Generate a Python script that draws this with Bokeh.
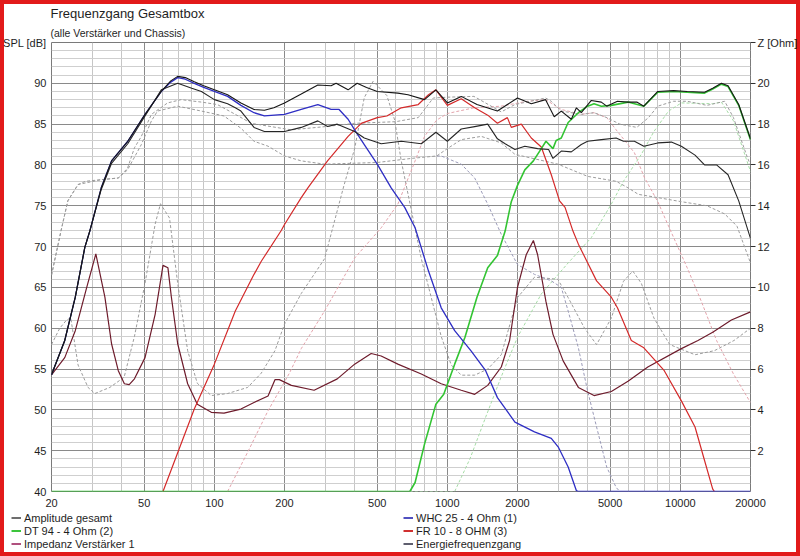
from bokeh.plotting import figure
from bokeh.models import Range1d, LinearAxis, FixedTicker, Legend, LegendItem, Title
from bokeh.layouts import column
from bokeh.embed import file_html
from bokeh.resources import INLINE

# ---------------- data ----------------
AMP = [(20,54.3),(22.8,58.5),(25.3,63.8),(27.8,69.9),(29.2,71.9),(32.7,77.2),(36.2,80.5),(42.5,82.9),
       (50.4,86.2),(59.2,89.0),(65,90.3),(69.6,90.85),(75,90.7),(82,90.2),(90,89.7),(100,89.2),(114,88.6),
       (130,87.6),(148,86.8),(164,86.7),(180,87.0),(200,87.6),(236,88.7),(278,89.8),(317,89.7),(333,90.0),
       (375,89.2),(410,90.0),(450,89.5),(500,89.0),(613,88.8),(678,88.6),(798,88.0),(893,89.2),(1000,87.6),
       (1147,88.4),(1340,87.4),(1640,86.6),(1810,87.4),(2000,88.2),(2292,87.5),(2640,88.0),(2875,85.9),
       (3083,86.6),(3404,85.6),(3580,87.0),(3757,86.4),(4148,87.9),(4579,87.7),(4830,87.2),(5370,87.8),
       (5960,87.7),(6500,87.7),(6970,87.2),(8000,89.0),(9350,89.1),(10700,89.0),(12700,88.9),(13770,89.4),
       (15000,90.0),(16020,89.7),(17800,87.4),(20000,83.2)]

ENERGY = [(20,54.3),(22.8,58.5),(25.3,63.8),(27.8,69.9),(29.2,71.9),(32.7,77.0),(36.2,80.2),(42.5,82.6),
          (50.4,86.0),(59.2,89.2),(69.6,90.0),(80,89.4),(88,89.0),(100,88.0),(114,87.5),(123,87.0),(130,86.6),
          (148,84.6),(164,84.1),(200,84.1),(236,84.6),(278,85.4),(306,84.7),(337,85.0),(400,84.1),(440,83.3),
          (520,82.6),(634,82.9),(773,82.6),(893,84.0),(1000,82.9),(1147,84.4),(1310,84.7),(1490,85.0),
          (1640,83.2),(1770,82.6),(1950,81.9),(2150,82.3),(2440,82.0),(2720,81.9),(2840,80.8),(3083,81.7),
          (3404,81.6),(3757,82.5),(4000,82.9),(4579,83.1),(5300,83.3),(5700,82.9),(6350,82.9),(6970,82.3),
          (8000,82.7),(9150,82.8),(10100,82.3),(11560,81.2),(12700,80.0),(14300,80.0),(16020,78.8),
          (17800,75.6),(20000,71.0)]

WHC = [(20,54.3),(22.8,58.5),(25.3,63.8),(27.8,69.9),(29.2,71.9),(32.7,77.2),(36.2,80.5),(42.5,82.9),
       (50.4,86.2),(59.2,89.0),(65,90.15),(69.6,90.7),(75,90.5),(82,90.0),(90,89.5),(100,89.0),(114,88.4),
       (130,87.3),(148,86.4),(164,86.0),(200,86.2),(236,86.8),(278,87.4),(317,86.8),(343,86.8),(375,85.6),
       (400,84.3),(440,82.5),(500,80.1),(574,77.2),(656,74.8),(727,72.3),(830,67.0),(941,62.5),(1075,59.7),
       (1266,57.2),(1460,54.8),(1640,51.5),(1950,48.5),(2365,47.3),(2793,46.5),(3000,45.4),(3300,43.0),
       (3580,40.1),(3650,40.0),(20000,40.0)]

DT94 = [(20,40.0),(690,40.0),(727,41.1),(798,45.8),(893,50.7),(965,51.9),(1075,55.6),(1190,58.9),
        (1340,63.8),(1490,67.4),(1640,68.9),(1770,71.9),(1881,75.5),(2000,77.5),(2150,79.4),(2340,80.5),
        (2530,82.0),(2650,82.9),(2840,82.0),(2930,83.0),(3083,83.3),(3300,85.2),(3650,86.4),(4000,87.2),
        (4260,87.5),(4579,87.2),(5055,87.3),(5960,87.7),(6970,87.2),(8000,88.9),(9350,89.0),(10700,88.9),
        (12700,88.8),(13770,89.3),(15000,89.9),(16020,89.6),(17800,87.3),(20000,83.1)]

FR10 = [(60.2,40.0),(82,50.1),(100,55.6),(123,62.1),(148,66.6),(159,68.2),(194,72.0),(200,72.7),(236,76.0),
        (252,77.2),(306,80.5),(375,83.5),(427,85.1),(500,85.8),(550,86.0),(634,87.0),(750,87.4),(830,88.6),
        (893,89.2),(1000,87.3),(1147,88.1),(1310,87.0),(1490,86.1),(1640,85.1),(1810,85.8),(1881,84.6),
        (2076,85.0),(2292,83.3),(2530,82.2),(2793,78.8),(3030,75.6),(3200,74.8),(3460,71.9),(3650,70.3),
        (4370,65.8),(5055,63.8),(5370,62.5),(6160,58.5),(6970,57.6),(8530,54.8),(10100,51.1),(11560,47.9),
        (12700,43.8),(13770,40.3),(14000,40.0)]

# impedance of amplifier 1, in Ohm (right axis)
IMPEDANZ = [(20,5.72),(22.8,6.56),(25.3,7.88),(28.2,9.92),(31.0,11.64),(33.9,9.52),(36.2,7.24),(38.7,5.92),
            (41.1,5.28),(43.1,5.24),(45.4,5.52),(50.4,6.56),(55.7,8.68),(60.2,11.08),(63.2,10.96),(65.4,9.52),
            (69.6,7.24),(76.8,5.28),(84.5,4.28),(97,3.88),(110,3.84),(130,4.04),(148,4.36),(170,4.68),
            (182,5.48),(190,5.48),(214,5.2),(268,4.96),(337,5.52),(400,6.24),(471,6.76),(520,6.64),(613,6.24),
            (773,5.76),(941,5.28),(1147,4.96),(1310,4.76),(1490,5.2),(1704,6.1),(1850,7.4),(2000,10.0),
            (2180,11.6),(2340,12.3),(2440,11.6),(2650,9.3),(2840,7.7),(3140,6.4),(3650,5.1),(4260,4.7),
            (5055,4.9),(5960,5.4),(7250,6.1),(10100,7.0),(11900,7.4),(13770,7.8),(16560,8.4),(20000,8.8)]

# dashed (unlabelled) comparison curves
ALT_TOTAL = [(20,66.5),(22,72.0),(23.5,75.6),(26,77.6),(28,78.0),(32.7,78.2),(38.7,78.4),(42.4,79.6),
             (45.4,82.1),(48.6,83.5),(53.7,86.2),(63,87.6),(72,88.0),(88,87.7),(103,87.4),(123,86.2),
             (144,85.1),(175,84.7),(214,84.3),(300,84.7),(400,85.1),(600,85.3),(750,85.8),(870,88.2),
             (1000,88.3),(1300,88.4),(1704,86.5),(1950,87.4),(2640,88.2),(2793,87.8),(3083,86.6),(3757,86.2),
             (4260,86.4),(4830,85.8),(5500,85.0),(6500,84.6),(7300,85.8),(8000,87.2),(9350,87.8),(10700,87.8),
             (13000,87.3),(15500,87.8),(16900,85.8),(19400,80.9),(20000,80.0)]

ALT_ENERGY = [(20,66.5),(22,72.0),(23.5,75.6),(26,77.6),(32.7,78.2),(38.7,78.4),(42.4,79.4),(48.6,82.5),
              (53.7,85.4),(57,86.6),(69.6,87.2),(88,86.6),(110,86.0),(130,84.5),(148,82.9),(170,82.3),
              (200,81.1),(236,80.5),(297,80.1),(500,80.3),(700,80.8),(900,81.1),(1000,82.0),(1147,83.1),
              (1398,83.5),(1704,82.7),(1950,81.3),(2500,80.6),(2980,80.1),(4000,78.6),(5300,78.0),(5960,77.2),
              (6600,76.4),(8000,76.0),(10100,75.5),(13000,75.0),(15500,74.0),(17500,72.5),(20000,68.0)]

ALT_WHC = [(900,81.1),(941,81.1),(1147,80.1),(1310,78.4),(1490,75.2),(1704,71.5),(2000,67.8),(2365,66.6),
           (2793,65.8),(3083,65.0),(3300,62.1),(3650,57.6),(4000,52.3),(4370,47.9),(4830,43.0),(5300,40.5),
           (5500,40.0)]

ALT_FR10 = [(114,40.0),(140,45.0),(170,49.9),(210,54.5),(236,57.5),(297,62.1),(400,68.6),(520,72.3),
            (613,75.2),(727,80.5),(798,83.5),(900,85.5),(1000,86.3),(1300,87.0),(1700,87.2),(2200,87.8),
            (2640,88.0),(3083,86.8),(3757,86.2),(4260,86.4),(4830,85.8),(5370,84.1),(5960,82.5),(6350,81.5),
            (7000,78.5),(8000,75.5),(8900,72.5),(10700,67.4),(12300,63.3),(14300,58.5),(16900,54.4),
            (19800,51.1),(20000,50.9)]

ALT_DT94 = [(690,40.0),(1075,40.0),(1250,44.0),(1460,49.1),(1700,54.0),(2000,58.9),(2530,64.2),(3300,68.0),
            (4148,71.1),(5055,75.2),(5700,78.0),(6800,81.3),(7700,84.1),(8900,86.6),(10100,87.6),(13770,87.5),
            (15000,87.7),(16900,85.4),(20000,79.2)]

# dashed impedance, in Ohm
ALT_IMPEDANZ = [(20,7.2),(21.7,8.0),(23.2,8.4),(24.2,8.5),(26,6.2),(28.7,5.1),(30.7,4.8),(35.6,5.1),(41,5.6),
                (45.4,7.6),(50.4,10.2),(55.7,13.1),(58.7,14.1),(64.2,13.4),(69.6,10.2),(76.8,6.9),(84.5,5.3),
                (97,4.7),(114,4.8),(139,5.1),(159,5.8),(182,6.9),(200,8.2),(236,9.7),(297,11.4),(360,15.0),
                (400,16.8),(440,19.3),(480,20.1),(550,19.4),(594,18.2),(634,16.2),(700,13.8),(773,11.4),
                (853,9.5),(941,7.6),(1039,6.2),(1147,5.7),(1310,5.7),(1490,6.0),(1704,6.7),(2000,9.5),
                (2365,10.5),(2980,10.4),(3300,9.5),(3880,8.0),(4370,7.2),(5055,8.5),(5700,10.3),(6250,10.8),
                (6800,10.2),(7700,8.5),(9000,7.2),(11560,6.7),(14000,6.9),(17000,7.4),(20000,8.0)]

X_TICKS = [20, 50, 100, 200, 500, 1000, 2000, 5000, 10000, 20000]
X_MINOR = [30, 40, 60, 70, 80, 90, 300, 400, 600, 700, 800, 900, 3000, 4000, 6000, 7000, 8000, 9000]
Y_TICKS = [40, 45, 50, 55, 60, 65, 70, 75, 80, 85, 90]
Z_TICKS = [2, 4, 6, 8, 10, 12, 14, 16, 18, 20]

TITLE = "Frequenzgang Gesamtbox"
SUBTITLE = "(alle Verstärker und Chassis)"
SPL_LABEL = "SPL [dB]"
Z_LABEL = "Z [Ohm]"

LEGEND_LABELS = ["Amplitude gesamt", "DT 94 - 4 Ohm (2)", "Impedanz Verstärker 1",
                 "WHC 25 - 4 Ohm (1)", "FR 10 - 8 OHM (3)", "Energiefrequenzgang"]
LEGEND_COLORS = ["#6e6e6e", "#3cc43c", "#b0507e", "#5050c0", "#d03030", "#5e5e6e"]

FONT = "Liberation Sans"

# ---------------- main chart ----------------
p = figure(width=800, height=511, x_axis_type="log", title=None,
           x_range=Range1d(20, 20000), y_range=Range1d(40, 95),
           output_backend="svg", toolbar_location=None,
           min_border_left=50, min_border_right=50, min_border_top=42, min_border_bottom=20)
p.frame_align = False
p.background_fill_color = "white"
p.border_fill_alpha = 0
p.outline_line_color = "#7a7a7a"

p.extra_y_ranges = {"z": Range1d(0, 22)}

# titles (inner one added first)
p.add_layout(Title(text=SUBTITLE, text_font=FONT, text_font_size="10.5px", text_font_style="normal",
                   text_color="#1e1e1e", align="left", offset=-1, standoff=8), "above")
p.add_layout(Title(text=TITLE, text_font=FONT, text_font_size="13px", text_font_style="normal",
                   text_color="#1e1e1e", align="left", offset=-1, standoff=0), "above")

# axes
p.xaxis.ticker = FixedTicker(ticks=X_TICKS, minor_ticks=X_MINOR)
p.xaxis.major_label_overrides = {t: str(t) for t in X_TICKS}
yminor = [v for v in range(41, 95) if v % 5 != 0]
p.yaxis.ticker = FixedTicker(ticks=Y_TICKS + [95], minor_ticks=yminor)
p.yaxis.major_label_overrides = {95: SPL_LABEL}

for ax in (p.xaxis[0], p.yaxis[0]):
    ax.axis_line_color = None
    ax.major_tick_line_color = None
    ax.minor_tick_line_color = None
    ax.major_tick_out = 0
    ax.major_tick_in = 0
    ax.minor_tick_out = 0
    ax.minor_tick_in = 0
    ax.major_label_text_font = FONT
    ax.major_label_text_font_size = "11px"
    ax.major_label_text_color = "#1e1e1e"
p.xaxis.major_label_standoff = 7
p.yaxis.major_label_standoff = 5

zax = LinearAxis(y_range_name="z", ticker=FixedTicker(ticks=Z_TICKS + [22]))
zax.major_label_overrides = {22: Z_LABEL}
zax.axis_line_color = None
zax.major_tick_in = 0
zax.major_tick_out = 5
zax.minor_tick_in = 0
zax.minor_tick_out = 0
zax.major_tick_line_color = "#303030"
zax.minor_tick_line_color = None
zax.major_label_standoff = 2
zax.major_label_text_font = FONT
zax.major_label_text_font_size = "11px"
zax.major_label_text_color = "#1e1e1e"
p.add_layout(zax, "right")

# grid
p.xgrid.grid_line_color = "#8a8a8a"
p.xgrid.minor_grid_line_color = "#c6c6c6"
p.ygrid.grid_line_color = "#8a8a8a"
p.ygrid.minor_grid_line_color = "#cfcfcf"

def xy(pairs):
    xs, ys = zip(*pairs)
    return list(xs), list(ys)

DASH = "3 2"
# dashed comparison curves
for data, col, rng in [(ALT_IMPEDANZ, "#9c9c9c", "z"), (ALT_FR10, "#e3a3ab", None),
                       (ALT_DT94, "#a6dca6", None), (ALT_WHC, "#9a9ab8", None),
                       (ALT_ENERGY, "#9c9c9c", None), (ALT_TOTAL, "#9c9c9c", None)]:
    xs, ys = xy(data)
    kw = {"y_range_name": rng} if rng else {}
    p.line(xs, ys, line_color=col, line_width=1, line_dash=DASH, **kw)

# solid curves
xs, ys = xy(IMPEDANZ)
p.line(xs, ys, line_color="#6e1c2c", line_width=1.2, y_range_name="z")
xs, ys = xy(FR10)
p.line(xs, ys, line_color="#d42a2a", line_width=1.2)
xs, ys = xy(DT94)
p.line(xs, ys, line_color="#33c433", line_width=1.6)
xs, ys = xy(WHC)
p.line(xs, ys, line_color="#2e2ec4", line_width=1.3)
xs, ys = xy(ENERGY)
p.line(xs, ys, line_color="#262626", line_width=1.1)
xs, ys = xy(AMP)
p.line(xs, ys, line_color="#161616", line_width=1.1)

# ---------------- legend strip below the chart ----------------
leg = figure(width=800, height=45, title=None, x_range=Range1d(0, 800), y_range=Range1d(0, 45),
             x_axis_location=None, y_axis_location=None,
             output_backend="svg", toolbar_location=None,
             min_border_left=0, min_border_right=0, min_border_top=0, min_border_bottom=0)
leg.frame_align = False
leg.grid.visible = False
leg.outline_line_color = None
leg.background_fill_alpha = 0
leg.border_fill_alpha = 0

items = []
for lab, col in zip(LEGEND_LABELS, LEGEND_COLORS):
    # sample segment lies outside the visible range; it only supplies the legend glyph
    r = leg.line([-20, -10], [-20, -20], line_color=col, line_width=2)
    items.append(LegendItem(label=lab, renderers=[r]))
legend = Legend(items=items, location=(11, 6), nrows=3, orientation="vertical",
                glyph_width=10, glyph_height=13, label_height=13, label_width=379,
                label_standoff=3, spacing=0, padding=0, margin=0,
                border_line_color=None, background_fill_alpha=0,
                label_text_font=FONT, label_text_font_size="11px", label_text_color="#1e1e1e")
leg.add_layout(legend)

page = column(p, leg, spacing=0)
page.styles = {"background-color": "white", "box-shadow": "inset 0 0 0 4px #e21a1a"}

open("out.html", "w").write(file_html(page, INLINE))
